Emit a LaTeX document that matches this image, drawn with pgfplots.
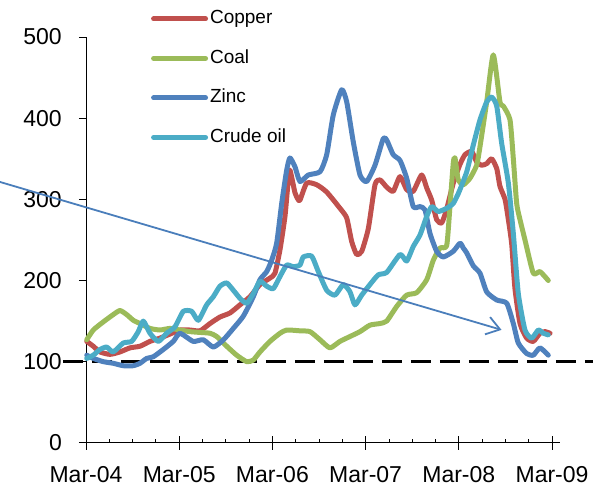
\documentclass[border=0pt]{standalone}
\usepackage{pgfplots}
\pgfplotsset{compat=1.18}
\usepackage{fontspec}
\setmainfont{Liberation Sans}
\usetikzlibrary{arrows.meta}

\definecolor{copper}{HTML}{C0504D}
\definecolor{coal}{HTML}{9BBB59}
\definecolor{zinc}{HTML}{4F81BD}
\definecolor{crude}{HTML}{4BACC6}
\definecolor{trend}{HTML}{4A7EBB}

\begin{document}
\begin{tikzpicture}
\begin{axis}[
  scale only axis,
  width=474pt, height=406pt,
  xmin=0, xmax=61, ymin=0, ymax=500,
  axis lines=left,
  axis line style={-, black, line width=0.8pt},
  clip=false,
  xtick={0,12,24,36,48,60},
  xticklabels={Mar-04,Mar-05,Mar-06,Mar-07,Mar-08,Mar-09},
  minor xtick={3,6,9,15,18,21,27,30,33,39,42,45,51,54,57},
  ytick={0,100,...,500},
  xtick align=inside,
  ytick align=outside,
  major tick length=7pt,
  minor tick length=4pt,
  tick style={black, line width=0.8pt},
  extra x ticks={0,12,24,36,48,60},
  extra x tick labels={},
  extra x tick style={xtick align=outside},
  /pgf/number format/assume math mode=true,
  tick label style={font=\fontsize{23}{27}\selectfont},
  yticklabel style={anchor=east, inner sep=0pt, xshift=-17pt},
  xticklabel style={anchor=north, inner sep=0pt, yshift=-23pt},
  legend cell align=left,
  legend image code/.code={\draw[#1] (0pt,0pt) -- (52pt,0pt);},
  legend style={at={(rel axis cs:0.137,1.072)}, anchor=north west,
    draw=none, fill=none, inner sep=0pt, row sep=17.5pt,
    font=\fontsize{19}{22}\selectfont,
    nodes={inner sep=2pt, text height=14pt, text depth=4pt}},
  series/.style={line width=5pt, line join=round, line cap=round, smooth, tension=0.35},
]
% reference level
\addplot[forget plot, black, line width=3pt, line cap=butt, dash pattern=on 20pt off 9pt]
  coordinates {(-2.96,100) (65.3,100)};

\addplot[series, copper] coordinates {
(0.1,125) (0.94,119) (1.8,112) (3.09,109) (4.38,112) (5.66,117) (6.95,119)
(8.24,125) (9.53,129) (10.81,134) (12.1,139) (13.39,139) (14.68,138)
(15.97,147) (17.25,155) (18.54,160) (19.83,170) (21.11,180) (22.4,195)
(23.69,203) (24.33,209) (24.98,238) (25.62,279) (26.01,320) (26.26,336)
(26.91,308) (27.3,300) (27.55,299) (28.42,320) (29.7,318) (30.99,309)
(32.7,289) (33.57,277) (34.21,248) (34.85,232) (35.5,236) (36.35,264)
(37.21,318) (37.85,324) (38.72,315) (39.56,310) (40.43,328) (41.29,312)
(42.14,310) (43.22,330) (43.87,314) (44.51,299) (45.15,275) (45.8,271)
(46.44,288) (47.29,320) (48.15,343) (48.8,355) (49.66,359) (50.3,346)
(50.95,342) (51.59,344) (52.23,350) (52.88,338) (53.3,316) (53.95,300)
(54.38,275) (54.81,245) (55.23,190) (55.88,147) (56.74,129) (57.59,125)
(58.45,135) (59.1,137) (59.74,135)};
\addlegendentry{Copper}

\addplot[series, coal] coordinates {
(0.1,127) (0.94,139) (2.23,149) (3.51,158) (4.38,163) (5.24,158) (6.09,151)
(6.95,147) (8.24,141) (9.53,139) (10.81,141) (12.1,139) (13.39,137)
(14.68,136) (15.97,135) (16.83,131) (18.12,119) (19.4,108) (20.69,100)
(21.54,102) (22.4,112) (23.69,125) (24.98,135) (25.84,139) (27.55,138)
(28.84,137) (30.13,127) (31.41,117) (32.7,125) (33.99,131) (35.28,137)
(36.56,145) (37.85,147) (38.72,150) (40,168) (41.29,182) (42.58,185)
(43.87,201) (44.72,225) (45.58,240) (46.44,243) (46.86,291) (47.29,345)
(47.51,351) (47.93,324) (48.58,318) (49.44,326) (50.3,342) (50.73,365)
(51.59,420) (52.44,478) (53.3,420) (53.73,415) (54.59,398) (55.02,350)
(55.45,295) (55.88,275) (56.52,250) (57.59,209) (58.45,211) (59.52,200)};
\addlegendentry{Coal}

\addplot[series, zinc] coordinates {
(0.1,108) (0.94,104) (2.23,100) (3.51,98) (4.8,95) (6.09,95) (6.95,98)
(7.81,104) (8.66,106) (9.95,115) (11.24,125) (12.1,135) (13.8,125)
(15.1,127) (16.4,118) (17.7,127) (18.97,141) (20.25,156) (21.54,180)
(22.4,201) (23.27,211) (23.91,225) (24.55,246) (25.2,295) (25.84,336)
(26.26,351) (26.91,340) (27.55,322) (28.62,330) (30.13,334) (30.99,355)
(31.84,404) (32.92,435) (33.57,420) (34.41,371) (35.28,330) (36.14,322)
(37.21,342) (38.28,375) (38.72,373) (39.56,355) (40.43,348) (41.29,326)
(42.14,291) (43,291) (43.65,287) (44.29,258) (45.15,236) (46,229)
(47.29,236) (48.15,246) (48.58,240) (49.02,234) (49.87,218) (50.73,209)
(51.59,186) (52.88,176) (54.17,172) (55.02,147) (55.66,123) (56.74,110)
(57.59,108) (58.45,117) (59.52,108)};
\addlegendentry{Zinc}

\addplot[series, crude] coordinates {
(0.1,104) (0.94,108) (1.8,115) (2.66,118) (3.51,112) (4.8,123) (5.88,125)
(6.73,137) (7.38,150) (8.24,135) (9.31,125) (10.39,135) (11.46,143)
(12.53,162) (13.61,162) (14.46,151) (15.54,170) (16.39,180) (17.25,193)
(18.12,197) (18.97,188) (19.83,178) (20.69,172) (21.54,184) (22.4,199)
(23.27,193) (24.12,190) (24.98,205) (25.84,219) (26.69,217) (27.55,219)
(27.98,229) (29.06,230) (29.91,211) (30.99,188) (32.06,182) (33.13,195)
(33.99,186) (34.63,170) (35.5,182) (36.56,195) (37.63,207) (38.72,210)
(40.43,232) (41.29,224) (42.14,242) (43,256) (43.87,279) (44.51,291)
(45.36,285) (46.44,289) (47.29,295) (47.93,307) (48.15,312) (49.02,334)
(49.87,367) (50.73,398) (51.59,420) (52.23,426) (52.88,415) (53.52,369)
(54.38,320) (55.02,258) (55.66,184) (56.52,139) (57.38,129) (58.24,139)
(58.88,135) (59.52,133)};
\addlegendentry{Crude oil}

% downward trend arrow
\addplot[forget plot, trend, line width=1.8pt, line cap=butt,
  -{Straight Barb[length=13pt, width=18pt]}]
  coordinates {(-11.07,321.4) (53.5,139.2)};

\coordinate (bbll) at (axis cs:-11.07,-62.8);
\coordinate (bbur) at (axis cs:67.08,545.6);
\end{axis}
\pgfresetboundingbox
\path[use as bounding box] (bbll) rectangle (bbur);
\end{tikzpicture}
\end{document}
